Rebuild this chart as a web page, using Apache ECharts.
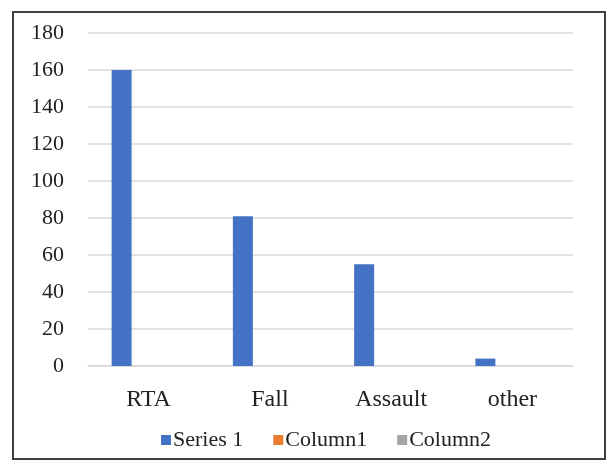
<!DOCTYPE html>
<html><head><meta charset="utf-8">
<script src="https://cdn.jsdelivr.net/npm/echarts@6/dist/echarts.min.js"></script>
<style>html,body{margin:0;padding:0;background:#fff}#c{width:609px;height:463px}</style>
</head><body><div id="c"></div>
<script>
var categories = ['RTA', 'Fall', 'Assault', 'other'];
var series1 = [160, 81, 55, 4];
var column1 = [null, null, null, null];
var column2 = [null, null, null, null];
var yTicks = { min: 0, max: 180, interval: 20 };

var chart = echarts.init(document.getElementById('c'));
var font = '"Liberation Serif", "Times New Roman", serif';
chart.setOption({
  animation: false,
  textStyle: { fontFamily: font },
  graphic: [{
    type: 'rect', shape: { x: 13, y: 12, width: 592, height: 447 },
    style: { fill: 'none', stroke: '#404040', lineWidth: 2 }, silent: true
  }],
  grid: { left: 88, right: 36, top: 33, bottom: 97 },
  legend: {
    top: 424, left: 156, itemWidth: 10, itemHeight: 10, itemGap: 30,
    icon: 'rect',
    textStyle: { fontFamily: font, fontSize: 22, color: '#222', padding: [0, 0, 0, -3] },
    data: ['Series 1', 'Column1', 'Column2']
  },
  xAxis: {
    type: 'category', data: categories,
    axisLine: { lineStyle: { color: '#d9d9d9', width: 1.5 } },
    axisTick: { show: false },
    axisLabel: { fontFamily: font, fontSize: 24, color: '#222', margin: 22 }
  },
  yAxis: {
    type: 'value', min: yTicks.min, max: yTicks.max, interval: yTicks.interval,
    axisLine: { show: false }, axisTick: { show: false },
    splitLine: { lineStyle: { color: '#d9d9d9', width: 1.5 } },
    axisLabel: { fontFamily: font, fontSize: 22, color: '#222', margin: 24 }
  },
  series: [
    { name: 'Series 1', type: 'bar', data: series1, barWidth: 20, barGap: '35%', itemStyle: { color: '#4472C4' } },
    { name: 'Column1', type: 'bar', data: column1, barWidth: 20, itemStyle: { color: '#ED7D31' } },
    { name: 'Column2', type: 'bar', data: column2, barWidth: 20, itemStyle: { color: '#A5A5A5' } }
  ]
});
</script></body></html>
